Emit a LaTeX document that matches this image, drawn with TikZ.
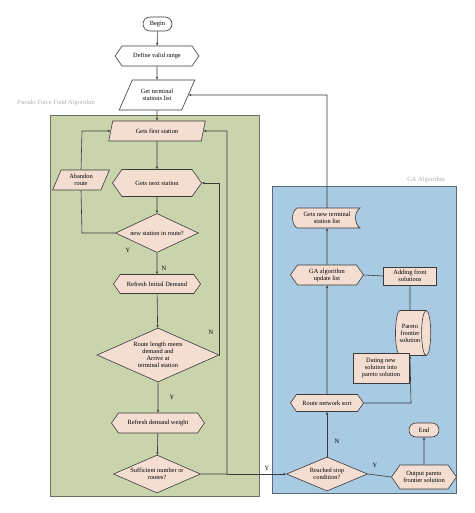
\documentclass[tikz,border=0pt]{standalone}
\usepackage{fontspec}
\setmainfont{Liberation Serif}
\usetikzlibrary{shapes.geometric,shapes.symbols,shapes.misc,arrows.meta}
\definecolor{nodefill}{HTML}{F4DDD1}
\definecolor{edgecol}{HTML}{3A3A3A}
\definecolor{greenbox}{HTML}{C9D4AD}
\definecolor{greenline}{HTML}{6E7060}
\definecolor{bluebox}{HTML}{A9CAE3}
\definecolor{blueline}{HTML}{556A7A}
\definecolor{titlecol}{HTML}{B5A9A9}
\tikzset{
  base/.style={draw=edgecol, line width=0.6pt, fill=nodefill, text=black,
    font=\fontsize{6.4}{7}\selectfont, align=center, inner sep=1pt},
  term/.style={base, rounded rectangle, minimum width=#1, minimum height=14},
  hexa/.style={base, signal, signal to=west and east, signal pointer angle=110, minimum width=#1},
  para/.style={base, trapezium, trapezium stretches=true, minimum width=#1},
  deci/.style={base, diamond, inner sep=0pt, minimum width=#1},
  boxn/.style={base, rectangle, minimum width=#1},
  drum/.style={base, cylinder, shape aspect=0.45, cylinder uses custom fill, cylinder body fill=nodefill, cylinder end fill=nodefill, minimum width=#1},
  conn/.style={draw=edgecol, line width=0.6pt},
  arr/.style={conn, -{Stealth[length=3pt,width=2.4pt]}},
  lbl/.style={font=\fontsize{6.4}{7}\selectfont, text=black, inner sep=0pt, align=center},
  title/.style={font=\fontsize{6.4}{7}\selectfont, text=titlecol, inner sep=0pt},
}
\begin{document}
\begin{tikzpicture}[x=1pt,y=-1pt]
\useasboundingbox (0,0) rectangle (474,513);
% group boxes
\draw[fill=greenbox, draw=greenline, line width=0.8pt] (50,115) rectangle (259,496);
\draw[fill=bluebox, draw=blueline, line width=0.8pt] (272,186) rectangle (456,493);
\node[title, anchor=west] (tpff) at (17,103) {Pseudo Force Field Algorithm};
\node[title, anchor=east] (tga) at (445,180) {GA Algorithm};
% stored-data outline
\draw[draw=edgecol, line width=0.6pt, fill=nodefill] (297,208) .. controls (291,212) and (291,224) .. (297,228) -- (360,228) .. controls (354,224) and (354,212) .. (360,208) -- cycle;
% nodes
\node[term=31, fill=white] (begin) at (157.5,24) {Begin};
\node[hexa=84, fill=white, minimum height=20] (define) at (157,56) {Define valid range};
\node[para=76, fill=white, minimum height=30, trapezium left angle=56, trapezium right angle=124] (getterm) at (157,95) {Get terminal\\stations list};
\node[para=97, minimum height=20, trapezium left angle=73, trapezium right angle=107] (gfirst) at (157,131) {Gets first station};
\node[para=57, minimum height=20, trapezium left angle=68, trapezium right angle=112] (abandon) at (81,180) {Abandon\\route};
\node[hexa=89, minimum height=27] (gnext) at (157,183) {Gets next station};
\node[deci=83, minimum height=39] (newst) at (157,233) {};
\node[lbl] (newst-t) at (newst) {new station in route?};
\node[hexa=87, minimum height=19] (rinit) at (157,284) {Refresh Initial Demand};
\node[deci=122, minimum height=54] (route) at (158,355) {};
\node[lbl] (route-t) at (route) {Route length meets\\demand and\\Arrive at\\terminal station};
\node[hexa=93, minimum height=20] (rweight) at (158,423) {Refresh demand weight};
\node[deci=87, minimum height=38] (suff) at (157,474) {};
\node[lbl] (suff-t) at (suff) {Sufficient number or\\routes?};
\node[lbl, minimum width=65, minimum height=20] (gnew) at (327,218) {Gets new terminal\\station list};
\node[hexa=73, minimum height=20] (gaupd) at (327,275) {GA algorithm\\update list};
\node[boxn=53, minimum height=18] (adding) at (410,276) {Adding front\\solutions};
\node[drum=45, minimum height=31] (pareto) at (410,333) {Pareto\\frontier\\solution};
\node[boxn=56, minimum height=30] (dating) at (381,368) {Dating new\\solution into\\pareto solution};
\node[hexa=73, minimum height=17] (rns) at (327,403) {Route network sort};
\node[term=32] (end) at (424,430) {End};
\node[deci=81, minimum height=34] (reached) at (327,474) {};
\node[lbl] (reached-t) at (reached) {Reached stop\\condition?};
\node[hexa=65, minimum height=24] (output) at (424,477) {Output pareto\\frontier solution};
% helper coordinates
\coordinate (cab) at (82,131);
\coordinate (cabb) at (82,233);
\coordinate (cn1) at (219,355);
\coordinate (cn2) at (219,183);
\coordinate (cs1) at (227,474);
\coordinate (cs2) at (227,131);
\coordinate (cg1) at (327,95);
\coordinate (cr1) at (411,403);
% connectors
\draw[arr] (begin) -- (define);
\draw[arr] (define) -- (getterm);
\draw[arr] (getterm) -- (gfirst);
\draw[arr] (gfirst) -- (gnext);
\draw[arr] (gnext) -- (newst);
\draw[arr] (newst) -- (rinit);
\draw[conn] (newst.west) -- (cabb) -- (abandon.south);
\draw[arr] (abandon.north) -- (cab) -- (gfirst.west);
\draw[arr] (rinit) -- (route);
\draw[arr] (route.east) -- (cn1) -- (cn2) -- (gnext.east);
\draw[arr] (route) -- (rweight);
\draw[arr] (rweight) -- (suff);
\draw[arr] (suff.east) -- (cs1) -- (cs2) -- (gfirst.east);
\draw[arr] (cs1) -- (reached.west);
\draw[arr] (reached) -- (rns);
\draw[arr] (rns) -- (gaupd);
\draw[arr] (gaupd) -- (gnew);
\draw[arr] (gnew.north) -- (cg1) -- (getterm.east);
\draw[conn] (gaupd.east) -- (adding.west);
\draw[conn] (adding) -- (pareto);
\draw[arr] (rns.east) -- (cr1) -- (pareto.south);
\draw[conn] (reached.east) -- (output.west);
\draw[arr] (output) -- (end);
% branch labels
\node[lbl] (ly1) at (128,250) {Y};
\node[lbl] (ln1) at (164,268) {N};
\node[lbl] (ln2) at (211,332) {N};
\node[lbl] (ly2) at (172,397) {Y};
\node[lbl] (ly3) at (267,468) {Y};
\node[lbl] (ln3) at (337,441) {N};
\node[lbl] (ly4) at (375,465) {Y};
\end{tikzpicture}
\end{document}
